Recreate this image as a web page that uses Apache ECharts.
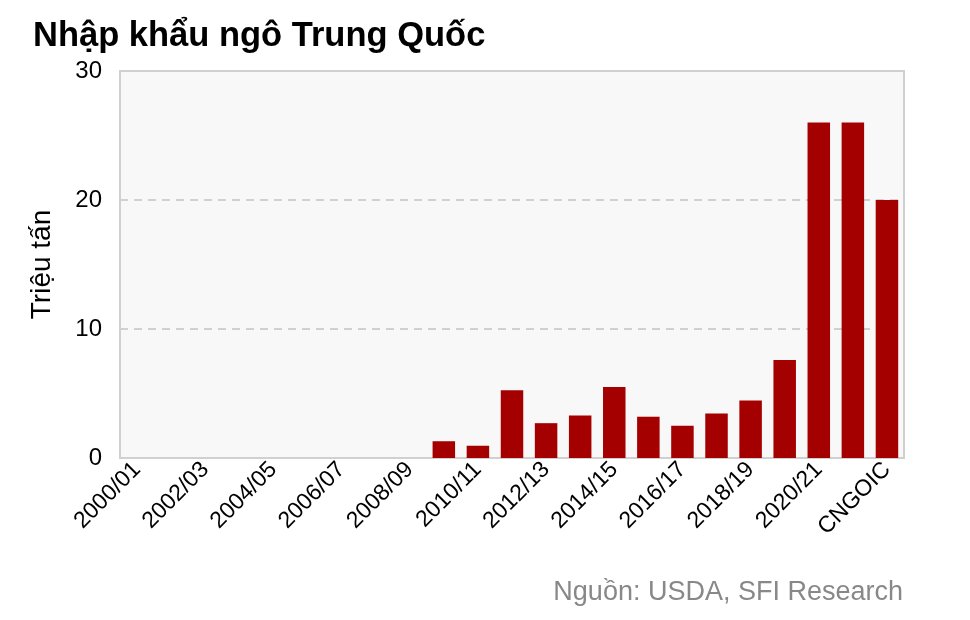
<!DOCTYPE html>
<html>
<head>
<meta charset="utf-8">
<script src="https://cdn.jsdelivr.net/npm/echarts@6/dist/echarts.min.js"></script>
<style>body{margin:0;background:#fff}#chart{width:970px;height:620px}</style>
</head>
<body>
<div id="chart"></div>
<script>
const categories = ['2000/01','2001/02','2002/03','2003/04','2004/05','2005/06','2006/07','2007/08','2008/09','2009/10',
  '2010/11','2011/12','2012/13','2013/14','2014/15','2015/16','2016/17','2017/18','2018/19','2019/20','2020/21','2021/22','CNGOIC'];
const imports = [0,0,0,0,0,0,0,0,0,1.3,0.95,5.25,2.7,3.3,5.5,3.2,2.5,3.45,4.45,7.6,26,26,20];
const yTicks = [0, 10, 20, 30];

const chart = echarts.init(document.getElementById('chart'));
chart.setOption({
  animation: false,
  textStyle: { fontFamily: 'Liberation Sans, Arial, sans-serif' },
  title: [
    { text: 'Nhập khẩu ngô Trung Quốc', left: 28, top: 14,
      textStyle: { fontSize: 34.5, fontWeight: 'bold', color: '#000' } },
    { text: 'Nguồn: USDA, SFI Research', right: 62, top: 574,
      textStyle: { fontSize: 27, fontWeight: 'normal', color: '#888' } }
  ],
  grid: { left: 120, right: 66, top: 71, bottom: 162, show: true,
    backgroundColor: '#f8f8f8', borderColor: '#d0d0d0', borderWidth: 2 },
  xAxis: {
    type: 'category', data: categories,
    axisLine: { show: false }, axisTick: { show: false },
    axisLabel: { interval: 1, rotate: 45, fontSize: 23, color: '#000', margin: 8 }
  },
  yAxis: {
    type: 'value', min: yTicks[0], max: yTicks[yTicks.length - 1], interval: 10,
    name: 'Triệu tấn', nameLocation: 'middle', nameGap: 64,
    nameTextStyle: { fontSize: 28, color: '#000' },
    axisLine: { show: false }, axisTick: { show: false },
    axisLabel: { fontSize: 24, color: '#000', margin: 18 },
    splitLine: { lineStyle: { type: [8, 6], color: '#d0d0d0', width: 2 } }
  },
  series: [{
    type: 'bar', data: imports, barWidth: '66%',
    itemStyle: { color: '#a50000' }
  }]
});
</script>
</body>
</html>
